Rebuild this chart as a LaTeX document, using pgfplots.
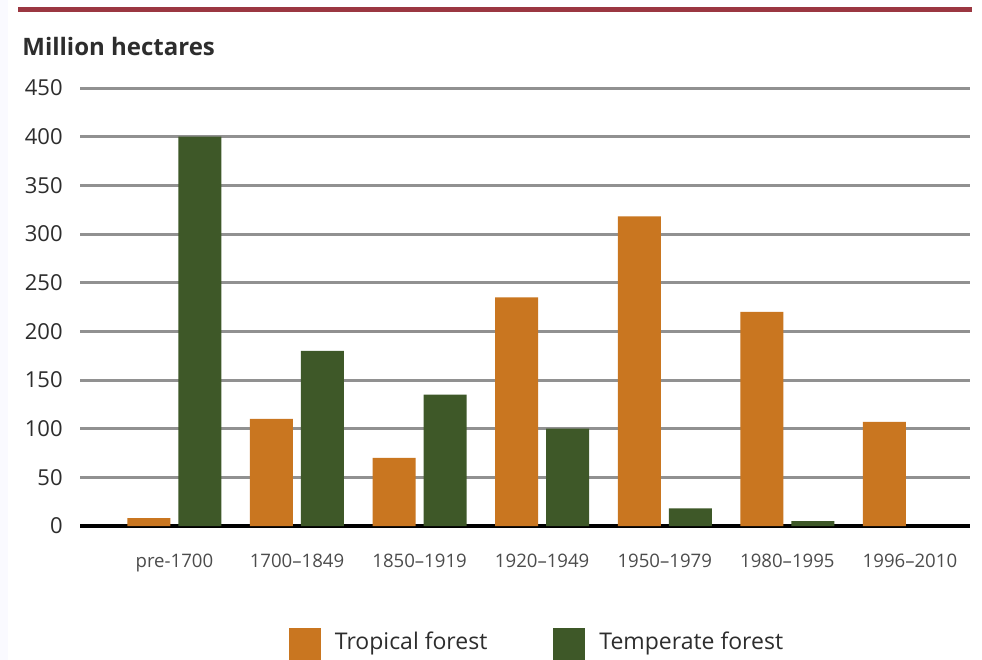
\documentclass[border=0pt]{standalone}
\usepackage{fontspec}
\setmainfont{Open Sans}
\usepackage{pgfplots}
\pgfplotsset{compat=1.18}

\definecolor{tropical}{RGB}{201,118,32}
\definecolor{temperate}{RGB}{62,88,40}
\definecolor{gridgray}{RGB}{145,145,145}
\definecolor{topred}{RGB}{155,55,65}
\definecolor{txt}{RGB}{45,45,45}

\begin{document}
\begin{tikzpicture}
\useasboundingbox (0,0) rectangle (491pt,330pt);
\clip (0,0) rectangle (491pt,330pt);
\fill[white] (0,0) rectangle (491pt,330pt);
\fill[black!4!blue!2] (0,0) rectangle (4pt,330pt);
% rule across the top
\draw[topred, line width=2.5pt] (9pt,325pt) -- (486pt,325pt);
\node[anchor=west, inner sep=0pt, text=txt, font=\fontsize{12}{14}\selectfont\bfseries]
  at (11pt,306.5pt) {Million hectares};

\begin{axis}[
    at={(40pt,67pt)}, anchor=south west,
    scale only axis,
    width=445pt, height=219pt,
    ybar=4pt, bar width=21.5pt,
    xmin=-0.77, xmax=6.49,
    ymin=0, ymax=450,
    ytick={0,50,...,450},
    xtick={0,...,6},
    xticklabels={pre-1700,1700–1849,1850–1919,1920–1949,1950–1979,1980–1995,1996–2010},
    axis line style={draw=none},
    major tick length=0pt,
    ymajorgrids,
    grid style={gridgray, line width=1.5pt},
    extra y ticks={0},
    extra y tick labels={},
    extra y tick style={grid style={black, line width=2pt}},
    /pgf/number format/assume math mode=true,
    yticklabel style={anchor=east, inner sep=0pt, xshift=-8.5pt,
      font=\fontsize{11}{13}\selectfont, text=txt},
    xticklabel style={anchor=north, inner sep=0pt, yshift=-14pt,
      font=\fontsize{9.3}{11}\selectfont, text=txt!85},
    legend columns=2,
    legend image code/.code={\fill[#1] (0pt,-9pt) rectangle (16pt,7pt);},
    legend style={draw=none, fill=none, inner sep=0pt, outer sep=0pt,
      anchor=west, at={(axis description cs:0.2348,-0.2694)},
      font=\fontsize{11.5}{13}\selectfont, text=txt,
      nodes={inner sep=0pt, anchor=west},
      /tikz/every odd column/.append style={column sep=7pt},
      /tikz/every even column/.append style={column sep=33pt}},
]
\addplot[fill=tropical, draw=none] coordinates {
  (0,8) (1,110) (2,70) (3,235) (4,318) (5,220) (6,107)};
\addlegendentry{Tropical forest}
\addplot[fill=temperate, draw=none] coordinates {
  (0,400) (1,180) (2,135) (3,100) (4,18) (5,5)};
\addlegendentry{Temperate forest}
\end{axis}
\end{tikzpicture}
\end{document}
